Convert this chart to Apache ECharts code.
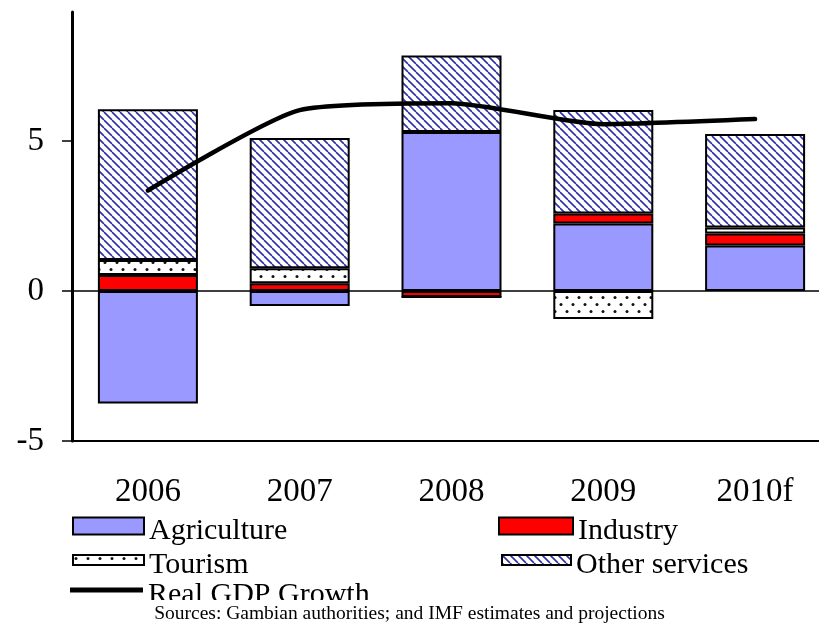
<!DOCTYPE html>
<html>
<head>
<meta charset="utf-8">
<script src="https://cdn.jsdelivr.net/npm/echarts@6/dist/echarts.min.js"></script>
<style>
  html, body { margin: 0; padding: 0; background: #fff; }
  #chart { width: 819px; height: 624px; }
</style>
</head>
<body>
<div id="chart"></div>
<script>
const years = ['2006', '2007', '2008', '2009', '2010f'];
const agriculture = [-3.75, -0.5, 5.3, 2.25, 1.52];
const industry = [0.53, 0.26, -0.2, 0.33, 0.4];
const tourism = [0.5, 0.5, 0, -0.93, 0.2];
const otherServices = [5.03, 4.34, 2.55, 3.45, 3.11];
const gdpGrowth = [3.35, 6.03, 6.26, 5.56, 5.73];
const yTicks = [-5, 0, 5];

const serif = "'Liberation Serif', 'Times New Roman', serif";

// hatch fill for "Other services"
function hatchPattern() {
  const c = document.createElement('canvas');
  c.width = 8; c.height = 8;
  const ctx = c.getContext('2d');
  ctx.fillStyle = '#fff';
  ctx.fillRect(0, 0, 8, 8);
  ctx.strokeStyle = '#2e2ea6';
  ctx.lineWidth = 1.6;
  [-8, 0, 8].forEach(function (o) {
    ctx.beginPath();
    ctx.moveTo(o, 0);
    ctx.lineTo(o + 8, 8);
    ctx.stroke();
  });
  return c;
}

// dotted fill for "Tourism"
function dotPattern() {
  const c = document.createElement('canvas');
  c.width = 12; c.height = 14;
  const ctx = c.getContext('2d');
  ctx.fillStyle = '#fff';
  ctx.fillRect(0, 0, 12, 14);
  ctx.fillStyle = '#111';
  [[3, 3.5], [9, 10.5]].forEach(function (p) {
    ctx.beginPath();
    ctx.arc(p[0], p[1], 1.5, 0, Math.PI * 2);
    ctx.fill();
  });
  return c;
}

const chart = echarts.init(document.getElementById('chart'), null, { renderer: 'canvas' });

function barSeries(name, data, color) {
  return {
    name: name,
    type: 'bar',
    stack: 'total',
    barWidth: 100,
    data: data,
    itemStyle: { color: color, borderColor: '#000', borderWidth: 2 }
  };
}

// one legend per entry so each swatch can have its own size
function legendItem(name, left, top, iconW, iconH) {
  return {
    left: left,
    top: top,
    orient: 'vertical',
    itemWidth: iconW,
    itemHeight: iconH,
    selectedMode: false,
    data: [{ name: name, icon: 'rect' }],
    formatter: '{t|{name}}',
    textStyle: {
      fontFamily: serif, fontSize: 30, color: '#000',
      rich: { t: { fontFamily: serif, fontSize: 30, color: '#000', padding: [10, 0, 0, 0] } }
    }
  };
}

const option = {
  backgroundColor: '#fff',
  animation: false,
  grid: { left: 72, top: 12, width: 759, height: 429, outerBoundsMode: 'none' },
  legend: [
    legendItem('Agriculture', 67, 511, 71, 17),
    legendItem('Tourism', 67, 545, 71, 10),
    legendItem('Real GDP Growth', 65, 575, 73, 5),
    legendItem('Industry', 493, 511, 74, 17),
    legendItem('Other services', 496, 545, 69, 10)
  ],
  xAxis: [
    {
      type: 'category',
      data: years,
      position: 'bottom',
      axisLine: { onZero: false, lineStyle: { color: '#000', width: 2 } },
      axisTick: { show: false },
      axisLabel: { fontFamily: serif, fontSize: 33, color: '#000', margin: 35 }
    },
    {
      type: 'category',
      data: years,
      position: 'top',
      axisLine: { onZero: true, lineStyle: { color: '#000', width: 1.5 } },
      axisTick: { inside: true, length: 10, lineStyle: { color: '#000', width: 1.5 } },
      axisLabel: { show: false }
    }
  ],
  yAxis: {
    type: 'value',
    min: -5,
    max: 9.3,
    splitLine: { show: false },
    axisLine: { show: true, onZero: false, lineStyle: { color: '#000', width: 3 } },
    axisTick: { show: true, length: 10, customValues: yTicks, lineStyle: { color: '#000', width: 1.5 } },
    axisLabel: { customValues: yTicks, fontFamily: serif, fontSize: 33, color: '#000', margin: 28 }
  },
  series: [
    barSeries('Agriculture', agriculture, '#9999ff'),
    barSeries('Industry', industry, '#ff0000'),
    barSeries('Tourism', tourism, { image: dotPattern(), repeat: 'repeat' }),
    barSeries('Other services', otherServices, { image: hatchPattern(), repeat: 'repeat' }),
    {
      name: 'Real GDP Growth',
      type: 'line',
      data: gdpGrowth,
      smooth: 0.2,
      symbol: 'none',
      z: 5,
      lineStyle: { color: '#000', width: 4.5, cap: 'round' },
      itemStyle: { color: '#000' }
    }
  ],
  graphic: [
    { type: 'rect', z: 100, shape: { x: 0, y: 600, width: 819, height: 24 }, style: { fill: '#fff' } },
    {
      type: 'text', z: 101, left: 'center', top: 604,
      style: { text: 'Sources: Gambian authorities; and IMF estimates and projections', font: '19.5px ' + serif, fill: '#000' }
    }
  ]
};

chart.setOption(option);
</script>
</body>
</html>
